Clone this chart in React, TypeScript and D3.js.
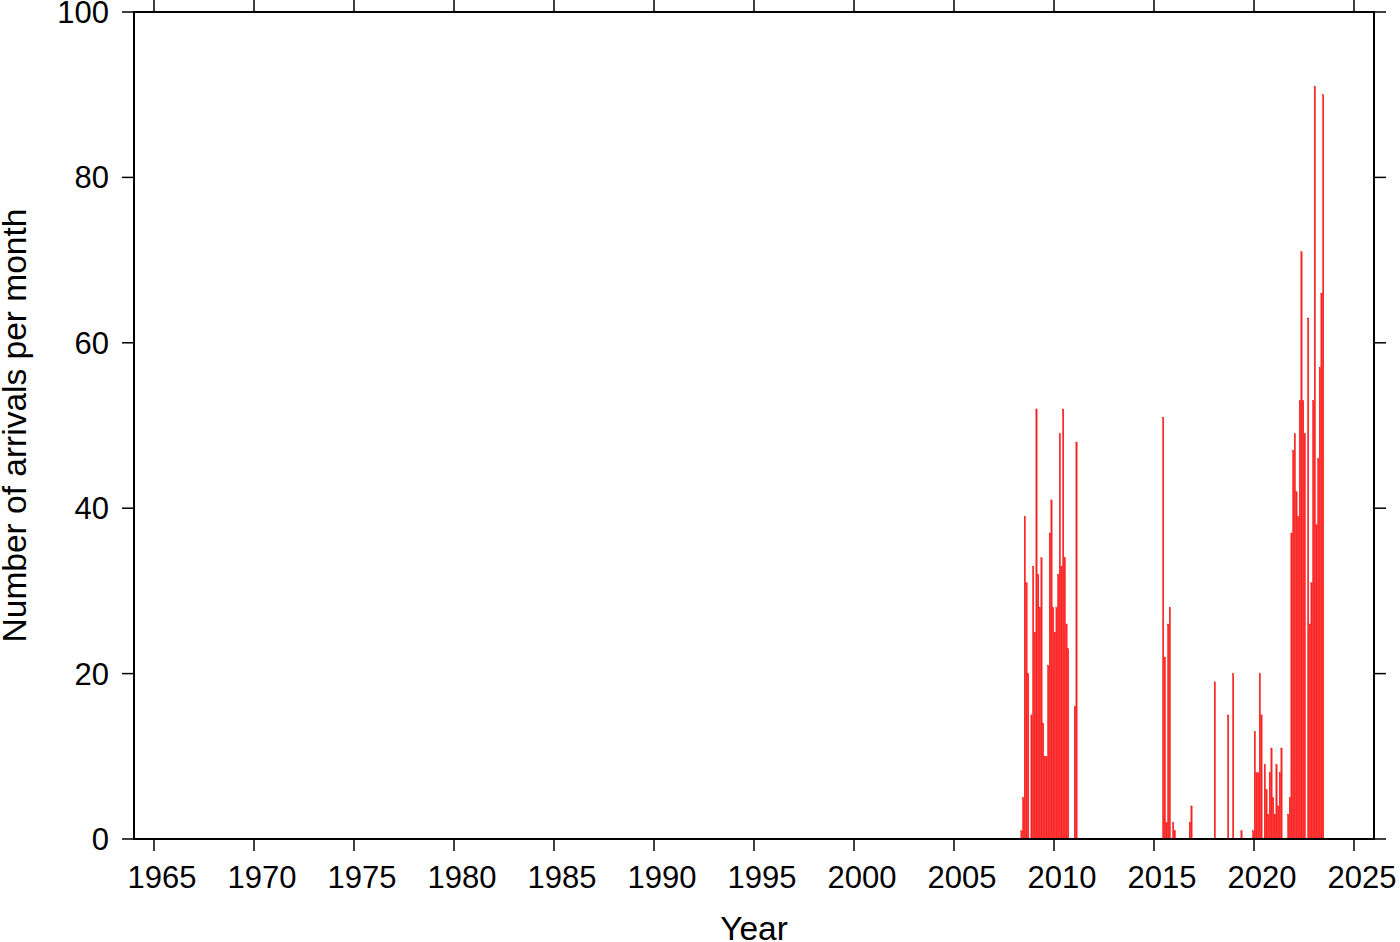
import React from "react";
import * as d3 from "d3";

// Monthly arrival counts (YYYY-MM), months not listed are zero
const months: string[] = [
  "2008-05","2008-06","2008-07","2008-08","2008-09","2008-11","2008-12",
  "2009-01","2009-02","2009-03","2009-04","2009-05","2009-06","2009-07","2009-08","2009-09","2009-10","2009-11","2009-12",
  "2010-01","2010-02","2010-03","2010-04","2010-05","2010-06","2010-07","2010-08","2010-09",
  "2011-01","2011-02",
  "2015-06","2015-07","2015-08","2015-09","2015-10","2015-12","2016-01","2016-10","2016-11",
  "2018-01","2018-09","2018-12","2019-05","2019-12",
  "2020-01","2020-02","2020-03","2020-04","2020-05","2020-07","2020-08","2020-09","2020-10","2020-11","2020-12",
  "2021-01","2021-02","2021-03","2021-04","2021-05","2021-09","2021-10","2021-11","2021-12",
  "2022-01","2022-02","2022-03","2022-04","2022-05","2022-06","2022-07","2022-09","2022-10","2022-11","2022-12",
  "2023-01","2023-02","2023-03","2023-04","2023-05","2023-06",
];
const counts: number[] = [
  1, 5, 39, 31, 20, 15, 33,
  25, 52, 32, 28, 34, 14, 10, 10, 21, 37, 41, 28,
  25, 28, 32, 49, 33, 52, 34, 26, 23,
  16, 48,
  51, 22, 2, 26, 28, 2, 1, 2, 4,
  19, 15, 20, 1, 1,
  13, 8, 8, 20, 15, 9, 6, 3, 8, 11, 5,
  3, 9, 4, 8, 11, 3, 5, 37, 47,
  49, 42, 39, 53, 71, 53, 49, 63, 26, 31, 53,
  91, 38, 46, 57, 66, 90,
];
const xTicks: number[] = [1965, 1970, 1975, 1980, 1985, 1990, 1995, 2000, 2005, 2010, 2015, 2020, 2025];
const yTicks: number[] = [0, 20, 40, 60, 80, 100];
const xLabel = "Year";
const yLabel = "Number of arrivals per month";

export default function App() {
  const W = 1400, H = 942;
  const left = 134, right = 1374, top = 12, bottom = 839;
  const x = d3.scaleLinear().domain([1964, 2026]).range([left, right]);
  const y = d3.scaleLinear().domain([0, 100]).range([bottom, top]);
  const font = "'Liberation Sans', Arial, Helvetica, sans-serif";
  const tickLen = 12;

  const bars = months.map((m, i) => {
    const [yr, mo] = m.split("-").map(Number);
    const t0 = yr + (mo - 1) / 12;
    const t1 = t0 + 1 / 12;
    return { x0: x(t0), x1: x(t1), v: counts[i] };
  });

  return (
    <svg width={W} height={H} style={{ position: "absolute", left: 0, top: 0, background: "#fff" }}>
      <rect x={0} y={0} width={W} height={H} fill="#fff" />
      {bars.filter(b => b.v > 0).map((b, i) => (
        <rect key={i} x={b.x0 + 0.15} width={Math.max(0.5, b.x1 - b.x0 - 0.3)} y={y(b.v)} height={y(0) - y(b.v)}
          fill="#ff2020" stroke="#f00000" strokeWidth={0.3} />
      ))}
      {/* frame */}
      <rect x={left} y={top} width={right - left} height={bottom - top} fill="none" stroke="#000" strokeWidth={2} />
      {/* x ticks bottom & top */}
      {xTicks.map(t => (
        <g key={"x" + t}>
          <line x1={x(t)} x2={x(t)} y1={bottom} y2={bottom + tickLen} stroke="#000" strokeWidth={1.5} />
          <line x1={x(t)} x2={x(t)} y1={top} y2={top - tickLen} stroke="#000" strokeWidth={1.5} />
          <text x={x(t) + 8} y={888} fontSize={31} fontFamily={font} textAnchor="middle" fill="#000">{t}</text>
        </g>
      ))}
      {yTicks.map(t => (
        <g key={"y" + t}>
          <line x1={left} x2={left - tickLen} y1={y(t)} y2={y(t)} stroke="#000" strokeWidth={1.5} />
          <line x1={right} x2={right + tickLen} y1={y(t)} y2={y(t)} stroke="#000" strokeWidth={1.5} />
          <text x={109} y={y(t) + 11} fontSize={31} fontFamily={font} textAnchor="end" fill="#000">{t}</text>
        </g>
      ))}
      <text x={(left + right) / 2} y={940} fontSize={33.5} fontFamily={font} textAnchor="middle" fill="#000">{xLabel}</text>
      <text transform={`translate(26,${(top + bottom) / 2}) rotate(-90)`} fontSize={33.5} fontFamily={font} textAnchor="middle" fill="#000">{yLabel}</text>
    </svg>
  );
}
